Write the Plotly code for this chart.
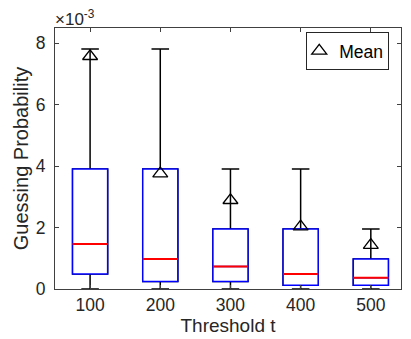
import plotly.graph_objects as go

# values in units of 1e-3
thresholds = ["100", "200", "300", "400", "500"]
lower_whisker = [0.0, 0.0, 0.0, 0.0, 0.0]
q1_vals = [0.488, 0.244, 0.244, 0.122, 0.122]
median_vals = [1.465, 0.977, 0.732, 0.488, 0.366]
q3_vals = [3.906, 3.906, 1.953, 1.953, 0.977]
upper_whisker = [7.8125, 7.8125, 3.906, 3.906, 1.953]
mean_vals = [7.58, 3.76, 2.89, 2.03, 1.43]

FONT = "Liberation Sans, Arial, Helvetica, sans-serif"
TXT = "#262626"

fig = go.Figure()

# whiskers (black)
fig.add_trace(go.Box(
    x=thresholds, q1=q1_vals, median=median_vals, q3=q3_vals,
    lowerfence=lower_whisker, upperfence=upper_whisker,
    width=0.5, whiskerwidth=0.5,
    line=dict(color="black", width=1.5), fillcolor="white",
    showlegend=False, hoverinfo="skip",
))
# box (blue)
fig.add_trace(go.Box(
    x=thresholds, q1=q1_vals, median=median_vals, q3=q3_vals,
    lowerfence=q1_vals, upperfence=q3_vals,
    width=0.5, whiskerwidth=0,
    line=dict(color="#0000ff", width=1.5), fillcolor="white",
    showlegend=False, hoverinfo="skip",
))
# median (red)
fig.add_trace(go.Box(
    x=thresholds, q1=median_vals, median=median_vals, q3=median_vals,
    lowerfence=median_vals, upperfence=median_vals,
    width=0.5, whiskerwidth=0,
    line=dict(color="#ff0000", width=2), fillcolor="rgba(0,0,0,0)",
    showlegend=False, hoverinfo="skip",
))
# mean markers
fig.add_trace(go.Scatter(
    x=thresholds, y=mean_vals, mode="markers", name="Mean",
    marker=dict(symbol="triangle-up-open", size=13, color="black",
                line=dict(color="black", width=1.3)),
))

axis_common = dict(
    showline=True, linecolor="#404040", linewidth=1, mirror="allticks",
    ticks="inside", ticklen=4, tickcolor="#404040", tickwidth=1,
    showgrid=False, zeroline=False, automargin=False,
    tickfont=dict(family=FONT, size=17.5, color=TXT),
)

fig.update_layout(
    width=411, height=339,
    margin=dict(l=55, r=10, t=28, b=50),
    paper_bgcolor="white", plot_bgcolor="white",
    boxmode="overlay",
    font=dict(family=FONT, color=TXT),
    xaxis=dict(**axis_common, type="category", range=[-0.5, 4.43],
               title=dict(text="Threshold t", font=dict(family=FONT, size=19, color=TXT), standoff=2)),
    yaxis=dict(**axis_common, range=[0, 8.5], tickvals=[0, 2, 4, 6, 8],
               ticklabelstandoff=5,
               title=dict(text="Guessing Probability", font=dict(family=FONT, size=20, color=TXT), standoff=1)),
    legend=dict(x=0.966, y=0.985, xanchor="right", yanchor="top",
                bgcolor="white", bordercolor="#262626", borderwidth=1,
                indentation=-8,
                font=dict(family=FONT, size=17.5, color="black")),
    annotations=[dict(text="×10<sup>-3</sup>", x=0, y=1, xref="paper", yref="paper",
                      xanchor="left", yanchor="bottom", showarrow=False,
                      font=dict(family=FONT, size=17, color=TXT), xshift=-2, yshift=-3)],
)

fig.write_html("out.html", config={"displayModeBar": False},
               post_script="document.body.style.margin='0';document.body.style.overflow='hidden';")
